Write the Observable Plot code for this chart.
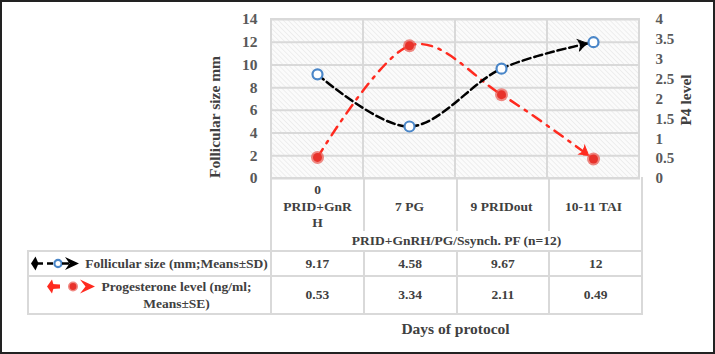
<!DOCTYPE html>
<html>
<head>
<meta charset="utf-8">
<script src="https://cdn.jsdelivr.net/npm/d3@7"></script>
<script src="https://cdn.jsdelivr.net/npm/@observablehq/plot@0.6"></script>
<style>
  html, body { margin: 0; padding: 0; background: #fff; }
  #wrap { position: relative; width: 715px; height: 354px; overflow: hidden; font-family: 'Liberation Serif', 'Times New Roman', serif; font-weight: bold; color: #404040; }
  #wrap svg.plot { position: absolute; left: 0; top: 0; }
  #frame { position: absolute; left: 0; top: 0; width: 715px; height: 354px; box-sizing: border-box; border: 2px solid #222; pointer-events: none; }
  table.dt { position: absolute; left: 27px; top: 177px; border-collapse: collapse; table-layout: fixed; width: 614px; font-size: 13.5px; }
  table.dt td { padding: 0; text-align: center; vertical-align: middle; }
  td.cat { border-left: 2px solid #d9d9d9; border-right: 2px solid #d9d9d9; }
  td.span { border-left: 2px solid #d9d9d9; border-right: 2px solid #d9d9d9; }
  tr.val td { border: 2px solid #d9d9d9; }
  .leg { display: flex; justify-content: center; align-items: flex-start; gap: 4px; line-height: 17px; }
  .leg svg { flex: none; }
</style>
</head>
<body>
<div id="wrap"></div>
<script>
const categories = ["0 PRID+GnRH", "7 PG", "9 PRIDout", "10-11 TAI"];
const categoryLabels = ["0\nPRID+GnR\nH", "7 PG", "9 PRIDout", "10-11 TAI"];
const follicularSize = [9.17, 4.58, 9.67, 12];
const progesterone = [0.53, 3.34, 2.11, 0.49];
const leftTicks = [0, 2, 4, 6, 8, 10, 12, 14];
const rightTicks = [0, 0.5, 1, 1.5, 2, 2.5, 3, 3.5, 4];
const groupLabel = "PRID+GnRH/PG/Ssynch. PF (n=12)";
const seriesNames = ["Follicular size (mm;Means±SD)", "Progesterone level (ng/ml;\nMeans±SE)"];
const leftTitle = "Follicular size mm";
const rightTitle = "P4 level";
const xTitle = "Days of protocol";

const ratio = 14 / 4; // right axis (0–4) mapped onto left axis (0–14)

const plot = Plot.plot({
  width: 715,
  height: 354,
  marginTop: 19,
  marginBottom: 176,
  marginLeft: 270,
  marginRight: 75,
  style: { fontFamily: "'Liberation Serif', 'Times New Roman', serif", fontWeight: "bold", color: "#595959", background: "transparent", overflow: "visible" },
  x: { type: "band", domain: categories, padding: 0, axis: null },
  y: { domain: [0, 14], axis: null },
  marks: [
    Plot.cell(categories, { x: d => d, fill: "url(#hatch)", stroke: "#d9d9d9", strokeWidth: 2 }),
    Plot.ruleY(leftTicks, { stroke: "#d9d9d9", strokeWidth: 2 }),
    Plot.axisY(leftTicks, { anchor: "left", tickSize: 0, tickPadding: 13, fontSize: 15.5, label: null }),
    Plot.axisY(rightTicks.map(t => t * ratio), { anchor: "right", tickSize: 0, tickPadding: 15, fontSize: 15, label: null, tickFormat: d => String(Math.round(d / ratio * 10) / 10) }),
    Plot.text([leftTitle], { frameAnchor: "left", rotate: -90, dx: -55, dy: 18, textAnchor: "middle", fontSize: 15.5, fill: "#404040" }),
    Plot.text([rightTitle], { frameAnchor: "right", rotate: -90, dx: 46, dy: 1, textAnchor: "middle", fontSize: 15.5, fill: "#404040" }),
    Plot.text(categories, { x: d => d, text: (d, i) => categoryLabels[i], frameAnchor: "bottom", lineAnchor: "middle", dy: 27, lineHeight: 1.2, fontSize: 13.5, fill: "#404040" }),
    Plot.text([xTitle], { frameAnchor: "bottom", lineAnchor: "middle", dy: 151, fontSize: 15.5, fill: "#404040" }),
    Plot.line(categories, { x: d => d, y: (d, i) => progesterone[i] * ratio, curve: "cardinal", stroke: "#ff2a1f", strokeWidth: 2.5, strokeDasharray: "10,7,2.5,7", markerEnd: "arrow" }),
    Plot.line(categories, { x: d => d, y: (d, i) => follicularSize[i], curve: "cardinal", stroke: "#000", strokeWidth: 2.5, strokeDasharray: "8,4", markerEnd: "arrow" }),
    Plot.dot(categories, { x: d => d, y: (d, i) => progesterone[i] * ratio, r: 6.5, fill: "#e9574f", fillOpacity: 0.7 }),
    Plot.dot(categories, { x: d => d, y: (d, i) => progesterone[i] * ratio, r: 4.5, fill: "#e8322b" }),
    Plot.dot(categories, { x: d => d, y: (d, i) => follicularSize[i], r: 5, fill: "#fff", stroke: "#4a86c8", strokeWidth: 2.2 })
  ]
});
plot.classList.add("plot");

const svg = d3.select(plot);
svg.insert("defs", ":first-child").html(
  '<pattern id="hatch" width="3.5" height="3.5" patternUnits="userSpaceOnUse" patternTransform="rotate(-45)">' +
  '<rect width="3.5" height="3.5" fill="#fbfbfb"/>' +
  '<line x1="0" y1="0" x2="0" y2="3.5" stroke="#e1e1e1" stroke-width="1"/></pattern>'
);
// Arrowheads: solid barbed heads whose tips stop at the edge of the last point
svg.selectAll("marker").each(function () {
  const m = d3.select(this);
  const c = m.attr("stroke") || "#000";
  m.attr("refX", 5.2).attr("overflow", "visible");
  m.selectAll("path")
    .attr("d", "M-4.2,-3.6 L1.6,0 L-4.2,3.6 L-2.6,0 Z")
    .attr("fill", c).attr("stroke", c).attr("stroke-width", 0.5).attr("stroke-linejoin", "miter");
});

const wrap = document.getElementById("wrap");
wrap.appendChild(plot);

const legendFol = '<svg width="50" height="17" viewBox="0 0 50 17">' +
  '<path d="M0,8.5 L4.5,1.5 L7.5,8.5 L4.5,15.5 Z" fill="#000"/>' +
  '<line x1="6" y1="8.5" x2="12" y2="8.5" stroke="#000" stroke-width="2.5"/>' +
  '<line x1="16" y1="8.5" x2="22" y2="8.5" stroke="#000" stroke-width="2.5"/>' +
  '<circle cx="27" cy="8.5" r="3.6" fill="#fff" stroke="#4a86c8" stroke-width="2.2"/>' +
  '<line x1="31" y1="8.5" x2="38" y2="8.5" stroke="#000" stroke-width="2.5"/>' +
  '<path d="M34,2 L48,8.5 L34,15 L38.5,8.5 Z" fill="#000"/></svg>';
const legendP4 = '<svg width="50" height="17" viewBox="0 0 50 17">' +
  '<path d="M0,8.5 L5,1.5 L7,8.5 L5,15.5 Z" fill="#ff2a1f"/>' +
  '<path d="M5,6 L13,6.5 L13,10.5 L5,11 Z" fill="#ff2a1f"/>' +
  '<circle cx="26" cy="8.5" r="5" fill="#e9574f" fill-opacity="0.7"/>' +
  '<circle cx="26" cy="8.5" r="3.4" fill="#e8322b"/>' +
  '<path d="M33,1.5 L48,8.5 L33,15.5 L38.5,8.5 Z" fill="#ff2a1f"/></svg>';

const table = document.createElement("table");
table.className = "dt";
let html = '<colgroup><col style="width:243px">' + categories.map(() => '<col style="width:92.75px">').join("") + '</colgroup>';
html += '<tr style="height:54px"><td></td>' + categories.map(() => '<td class="cat"></td>').join("") + '</tr>';
html += '<tr style="height:20px"><td></td><td class="span" colspan="4">' + groupLabel + '</td></tr>';
html += '<tr class="val" style="height:25px"><td><div class="leg">' + legendFol + '<div>' + seriesNames[0] + '</div></div></td>' +
  follicularSize.map(v => '<td>' + v + '</td>').join("") + '</tr>';
html += '<tr class="val" style="height:38px"><td><div class="leg">' + legendP4 + '<div>' + seriesNames[1].replace("\n", "<br>") + '</div></div></td>' +
  progesterone.map(v => '<td>' + v + '</td>').join("") + '</tr>';
table.innerHTML = html;
wrap.appendChild(table);

const frame = document.createElement("div");
frame.id = "frame";
wrap.appendChild(frame);
</script>
</body>
</html>
